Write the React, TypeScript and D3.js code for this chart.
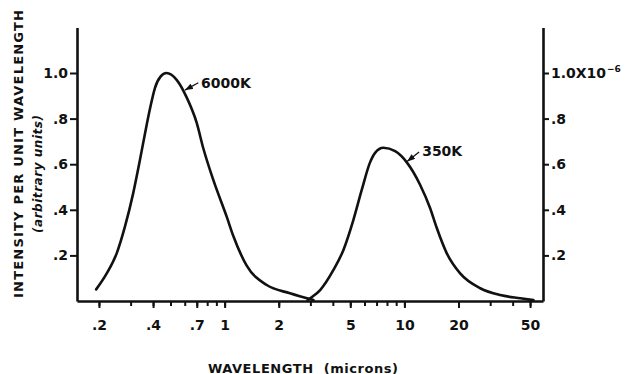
import React, { useEffect, useRef } from 'react';
import * as d3 from 'd3';

// 6000K curve (left axis), wavelength in microns
const hotWavelength = [0.193, 0.221, 0.251, 0.279, 0.31, 0.338, 0.361, 0.385, 0.41, 0.44, 0.475, 0.541, 0.615, 0.699, 0.761, 0.865, 1.027, 1.118, 1.327, 1.715, 2.31, 3.12];
const hotIntensity = [0.051, 0.121, 0.209, 0.326, 0.472, 0.618, 0.736, 0.845, 0.935, 0.984, 1.0, 0.97, 0.893, 0.782, 0.67, 0.531, 0.37, 0.285, 0.155, 0.07, 0.034, 0.004];

// 350K curve (right axis, x10^-6)
const coolWavelength = [2.9, 2.99, 3.4, 4.03, 4.58, 5.2, 5.79, 6.44, 6.87, 7.64, 8.88, 10.31, 12.22, 13.89, 15.14, 17.21, 20.42, 26.4, 34.1, 44.1, 52.2];
const coolIntensity = [0.004, 0.012, 0.048, 0.136, 0.224, 0.355, 0.487, 0.608, 0.65, 0.672, 0.657, 0.608, 0.51, 0.408, 0.32, 0.209, 0.121, 0.056, 0.026, 0.012, 0.004];

const xMinorTicks = [0.2, 0.3, 0.4, 0.5, 0.6, 0.7, 0.8, 0.9, 1, 2, 3, 4, 5, 6, 7, 8, 9, 10, 20, 30, 40, 50];
const xLabelTicks = [0.2, 0.4, 0.7, 1, 2, 5, 10, 20, 50];
const xTickLabels = ['.2', '.4', '.7', '1', '2', '5', '10', '20', '50'];
const yTicks = [0.2, 0.4, 0.6, 0.8, 1.0];
const yTickLabels = ['.2', '.4', '.6', '.8', '1.0'];

// annotations, in data units
const hotLabel = '6000K';
const hotLabelAt = [0.739, 0.958];
const hotArrow = [[0.714, 0.957], [0.602, 0.925]];
const coolLabel = '350K';
const coolLabelAt = [12.55, 0.659];
const coolArrow = [[12.07, 0.654], [10.35, 0.612]];

const FONT = '"DejaVu Sans", sans-serif';
const INK = '#111';

const App: React.FC = () => {
  const svgRef = useRef<SVGSVGElement>(null);
  const width = 633;
  const height = 374;

  useEffect(() => {
    if (!svgRef.current) return;
    const svg = d3.select(svgRef.current);
    svg.selectAll('*').remove();

    const x = d3.scaleLog().domain([0.151, 59]).range([77, 543]);
    const y = d3.scaleLinear().domain([0, 1.2]).range([301, 27.4]);

    const defs = svg.append('defs');
    defs.append('marker')
      .attr('id', 'arrowhead')
      .attr('viewBox', '0 0 8 6')
      .attr('refX', 8)
      .attr('refY', 3)
      .attr('markerWidth', 8)
      .attr('markerHeight', 6)
      .attr('markerUnits', 'userSpaceOnUse')
      .attr('orient', 'auto')
      .append('path')
      .attr('d', 'M0,0 L8,3 L0,6 z')
      .attr('fill', INK);

    const styleAxis = (g: d3.Selection<SVGGElement, unknown, null, undefined>) => {
      g.attr('font-family', FONT).attr('font-size', 14).attr('font-weight', 'bold');
      g.select('.domain').attr('stroke', INK).attr('stroke-width', 2.6);
      g.selectAll('.tick line').attr('stroke', INK).attr('stroke-width', 2);
      g.selectAll('.tick text').attr('fill', INK);
    };

    // bottom axis: minor ticks + domain
    svg.append('g')
      .attr('transform', `translate(0,${y(0)})`)
      .call(d3.axisBottom(x).tickValues(xMinorTicks).tickSize(5).tickSizeOuter(0).tickFormat(() => ''))
      .call(styleAxis);

    // bottom axis: labelled ticks
    svg.append('g')
      .attr('transform', `translate(0,${y(0)})`)
      .call(d3.axisBottom(x).tickValues(xLabelTicks).tickSize(7).tickPadding(12)
        .tickFormat((_d, i) => xTickLabels[i]))
      .call(styleAxis)
      .call(g => g.select('.domain').remove());

    // left axis
    svg.append('g')
      .attr('transform', `translate(${x.range()[0]},0)`)
      .call(d3.axisLeft(y).tickValues(yTicks).tickSize(7).tickPadding(2).tickSizeOuter(0)
        .tickFormat((_d, i) => yTickLabels[i]))
      .call(styleAxis);

    // right axis
    const right = svg.append('g')
      .attr('transform', `translate(${x.range()[1]},0)`)
      .call(d3.axisRight(y).tickValues(yTicks).tickSize(6).tickPadding(2).tickSizeOuter(0)
        .tickFormat((_d, i) => (i === yTicks.length - 1 ? '1.0X10' : yTickLabels[i])))
      .call(styleAxis);
    right.selectAll<SVGTextElement, number>('.tick text')
      .filter(d => d === 1.0)
      .append('tspan')
      .attr('font-size', 9)
      .attr('dy', -6)
      .attr('dx', 1)
      .text('\u22126');

    const line = d3.line<[number, number]>()
      .x(d => x(d[0]))
      .y(d => y(d[1]))
      .curve(d3.curveMonotoneX);

    const series = [
      d3.zip(hotWavelength, hotIntensity) as [number, number][],
      d3.zip(coolWavelength, coolIntensity) as [number, number][],
    ];

    svg.selectAll('.curve')
      .data(series)
      .enter()
      .append('path')
      .attr('class', 'curve')
      .attr('d', d => line(d))
      .attr('fill', 'none')
      .attr('stroke', INK)
      .attr('stroke-width', 2.6)
      .attr('stroke-linejoin', 'round')
      .attr('stroke-linecap', 'round');

    const notes = [
      { text: hotLabel, at: hotLabelAt, arrow: hotArrow },
      { text: coolLabel, at: coolLabelAt, arrow: coolArrow },
    ];

    notes.forEach(n => {
      svg.append('line')
        .attr('x1', x(n.arrow[0][0]))
        .attr('y1', y(n.arrow[0][1]))
        .attr('x2', x(n.arrow[1][0]))
        .attr('y2', y(n.arrow[1][1]))
        .attr('stroke', INK)
        .attr('stroke-width', 1.3)
        .attr('marker-end', 'url(#arrowhead)');
      svg.append('text')
        .attr('x', x(n.at[0]))
        .attr('y', y(n.at[1]))
        .attr('dy', '0.36em')
        .attr('font-family', FONT)
        .attr('font-size', 14)
        .attr('font-weight', 'bold')
        .attr('fill', INK)
        .text(n.text);
    });

    // axis titles
    svg.append('text')
      .attr('transform', 'translate(23.3,154) rotate(-90)')
      .attr('text-anchor', 'middle')
      .attr('font-family', FONT)
      .attr('font-size', 13)
      .attr('font-weight', 'bold')
      .attr('fill', INK)
      .attr('textLength', 288)
      .attr('lengthAdjust', 'spacing')
      .text('INTENSITY PER UNIT WAVELENGTH');

    svg.append('text')
      .attr('transform', 'translate(42,174) rotate(-90)')
      .attr('text-anchor', 'middle')
      .attr('font-family', FONT)
      .attr('font-size', 12)
      .attr('font-style', 'italic')
      .attr('font-weight', 'bold')
      .attr('fill', INK)
      .attr('textLength', 118)
      .attr('lengthAdjust', 'spacing')
      .text('(arbitrary units)');

    svg.append('text')
      .attr('x', 208)
      .attr('y', 372.5)
      .attr('font-family', FONT)
      .attr('font-size', 13)
      .attr('font-weight', 'bold')
      .attr('fill', INK)
      .attr('textLength', 190)
      .attr('lengthAdjust', 'spacing')
      .attr('xml:space', 'preserve')
      .text('WAVELENGTH  (microns)');
  }, []);

  return (
    <svg
      ref={svgRef}
      width={width}
      height={height}
      style={{ position: 'absolute', left: 0, top: 0, background: '#fff' }}
    />
  );
};

export default App;
